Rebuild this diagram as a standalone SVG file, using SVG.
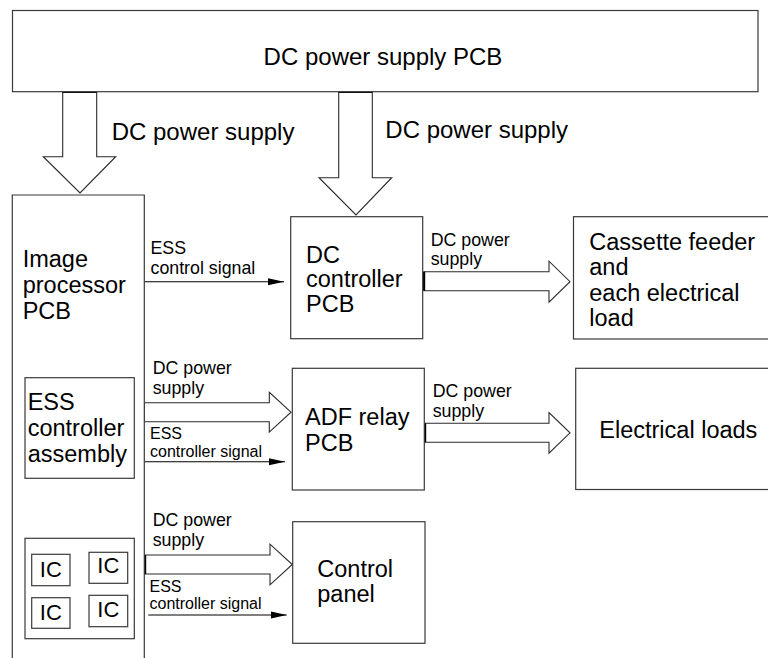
<svg xmlns="http://www.w3.org/2000/svg" width="768" height="658" viewBox="0 0 768 658">
<defs>
<style>
.box{fill:#fff;stroke:#3a3a3a;stroke-width:1.2}
.hollow{fill:#fff;stroke:#2a2a2a;stroke-width:1.1;stroke-linejoin:miter}
.base{stroke:#000;stroke-width:2.4}
.sig{stroke:#000;stroke-width:1.1;fill:none}
text{font-family:"Liberation Sans",Arial,Helvetica,sans-serif;fill:#000}
.big{font-size:23.5px}
.lbl{font-size:17.8px}
.sm{font-size:16px}
.ic{font-size:22px}
</style>
<marker id="ah" viewBox="0 0 16 8" markerWidth="16" markerHeight="8" refX="16" refY="4" orient="auto" markerUnits="userSpaceOnUse">
<path d="M0,0.5 L16,4 L0,7.5 z" fill="#000"/>
</marker>
</defs>
<rect width="768" height="658" fill="#fff"/>

<g id="connectors">
<polygon class="hollow" points="62.7,91.7 96.7,91.7 96.7,156.7 115.7,156.7 80,193 43.3,156.7 62.7,156.7"/>
<line class="base" x1="62.7" y1="91.7" x2="96.7" y2="91.7"/>
<polygon class="hollow" points="338.7,91.7 372.3,91.7 372.3,177.7 391.7,177.7 356,215 319,177.7 338.7,177.7"/>
<line class="base" x1="338.7" y1="91.7" x2="372.3" y2="91.7"/>
<polygon class="hollow" points="424,271.7 549,271.7 549,261.2 570,281.7 549,302.2 549,290.7 424,290.7"/>
<line class="base" x1="424" y1="271.7" x2="424" y2="290.7"/>
<polygon class="hollow" points="425,423.3 549,423.3 549,412.5 570,432.8 549,453.1 549,442.3 425,442.3"/>
<line class="base" x1="425" y1="423.3" x2="425" y2="442.3"/>
<polygon class="hollow" points="144.3,402.7 269.3,402.7 269.3,392.3 291,412.2 269.3,432.1 269.3,421.7 144.3,421.7"/>
<polygon class="hollow" points="145,555 270,555 270,544.2 292.3,564.5 270,584.8 270,574 145,574"/>
<line class="base" x1="145" y1="555" x2="145" y2="574"/>
<line class="sig" x1="144.3" y1="281.7" x2="284" y2="281.7" marker-end="url(#ah)"/>
<line class="sig" x1="144.3" y1="461.7" x2="285" y2="461.7" marker-end="url(#ah)"/>
<line class="sig" x1="148.3" y1="615" x2="286.7" y2="615" marker-end="url(#ah)"/>
<line class="sig" x1="77.3" y1="478.3" x2="77.3" y2="538.3" marker-end="url(#ah)"/>
</g>

<g id="dc-power-supply-pcb">
<rect class="box" x="12.5" y="10.5" width="745.5" height="81.2"/>
<text x="383" y="65" text-anchor="middle" style="font-size:24px">DC power supply PCB</text>
</g>

<g id="labels-top">
<text x="111.7" y="140" style="font-size:24px">DC power supply</text>
<text x="385.3" y="138" style="font-size:24px">DC power supply</text>
</g>

<g id="image-processor-pcb">
<path class="box" d="M12.3,662 V195 H144.3 V662" fill="none"/>
<text class="big" x="22.7" y="267.3">Image</text>
<text class="big" x="22.7" y="293">processor</text>
<text class="big" x="22.7" y="318.5">PCB</text>
</g>

<g id="ess-controller-assembly">
<rect class="box" x="25" y="377.7" width="109.3" height="100.6"/>
<text class="big" x="27.7" y="410">ESS</text>
<text class="big" x="27.7" y="436">controller</text>
<text class="big" x="27.7" y="461.7">assembly</text>
</g>

<g id="ic-group">
<rect class="box" x="25" y="538.3" width="109.3" height="100.4"/>
<rect class="box" x="31.7" y="554.3" width="38.3" height="31.4"/>
<text class="ic" x="50.8" y="576.7" text-anchor="middle">IC</text>
<rect class="box" x="89" y="552.3" width="38.7" height="31"/>
<text class="ic" x="108.3" y="573.3" text-anchor="middle">IC</text>
<rect class="box" x="31.7" y="597.7" width="38.3" height="30.6"/>
<text class="ic" x="50.8" y="620" text-anchor="middle">IC</text>
<rect class="box" x="89" y="595.3" width="38.7" height="31.4"/>
<text class="ic" x="108.3" y="616.7" text-anchor="middle">IC</text>
</g>

<g id="dc-controller-pcb">
<rect class="box" x="290.7" y="216.7" width="132" height="122"/>
<text class="big" x="306" y="263.3">DC</text>
<text class="big" x="306" y="287.3">controller</text>
<text class="big" x="306" y="311.7">PCB</text>
</g>

<g id="cassette-feeder">
<rect class="box" x="573.5" y="216.7" width="200" height="122.3"/>
<text class="big" x="589.3" y="249.5">Cassette feeder</text>
<text class="big" x="589.3" y="275">and</text>
<text class="big" x="589.3" y="300.5">each electrical</text>
<text class="big" x="589.3" y="326">load</text>
</g>

<g id="adf-relay-pcb">
<rect class="box" x="292.3" y="368.3" width="132" height="121.7"/>
<text class="big" x="305" y="425">ADF relay</text>
<text class="big" x="305" y="451">PCB</text>
</g>

<g id="electrical-loads">
<rect class="box" x="575.7" y="368.3" width="200" height="121.2"/>
<text class="big" x="599.3" y="438.3">Electrical loads</text>
</g>

<g id="control-panel">
<rect class="box" x="292.7" y="521.7" width="132.3" height="121.6"/>
<text class="big" x="317.3" y="576.7">Control</text>
<text class="big" x="317.3" y="601.7">panel</text>
</g>

<g id="connector-labels">
<text class="lbl" x="150.5" y="254">ESS</text>
<text class="lbl" x="150.5" y="273.5">control signal</text>
<text class="lbl" x="430.7" y="245.5">DC power</text>
<text class="lbl" x="430.7" y="265">supply</text>
<text class="lbl" x="152.7" y="374">DC power</text>
<text class="lbl" x="152.7" y="393.5">supply</text>
<text class="sm" x="150" y="439">ESS</text>
<text class="sm" x="150" y="456.5">controller signal</text>
<text class="lbl" x="432.7" y="397">DC power</text>
<text class="lbl" x="432.7" y="416.5">supply</text>
<text class="lbl" x="152.7" y="526">DC power</text>
<text class="lbl" x="152.7" y="545.5">supply</text>
<text class="sm" x="149.5" y="591.8">ESS</text>
<text class="sm" x="149.5" y="609.3">controller signal</text>
</g>
</svg>
